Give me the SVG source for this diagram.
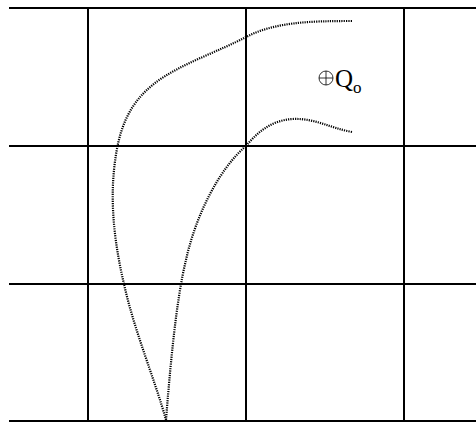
<svg xmlns="http://www.w3.org/2000/svg" width="476" height="423" viewBox="0 0 476 423">
<style>
.grid{stroke:#000;stroke-width:2;fill:none}
.dot{stroke:#000;stroke-width:2.2;fill:none;stroke-dasharray:1.2 1.1}
.lbl{font-family:"Liberation Serif","Times New Roman",serif;fill:#000}
</style>
<rect width="476" height="423" fill="#fff"/>
<g id="grid">
<line class="grid" x1="9" y1="8" x2="476" y2="8"/>
<line class="grid" x1="9" y1="146" x2="476" y2="146"/>
<line class="grid" x1="9" y1="284" x2="476" y2="284"/>
<line class="grid" x1="9" y1="421" x2="476" y2="421"/>
<line class="grid" x1="88" y1="8" x2="88" y2="421"/>
<line class="grid" x1="246" y1="8" x2="246" y2="421"/>
<line class="grid" x1="404" y1="8" x2="404" y2="421"/>
</g>
<g id="curves">
<path class="dot" d="M352,21 C310,21 275,22 246,37 C220,51 180,64 155,83 C128,104 118,130 114,170 C110,210 116,250 124,284 C134,330 155,380 166,420"/>
<path class="dot" d="M352,132 C330,128 315,118 293,119 C270,120 255,135 246,146 C220,168 196,214 186,260 C176,300 170,370 166,420"/>
</g>
<g id="label">
<circle cx="326" cy="78" r="7" fill="none" stroke="#000" stroke-width="0.8"/>
<line x1="319" y1="78" x2="333" y2="78" stroke="#000" stroke-width="0.8"/>
<line x1="326" y1="71" x2="326" y2="85" stroke="#000" stroke-width="0.8"/>
<text class="lbl" x="335" y="87" font-size="25">Q<tspan font-size="17" dy="6">o</tspan></text>
</g>
</svg>
